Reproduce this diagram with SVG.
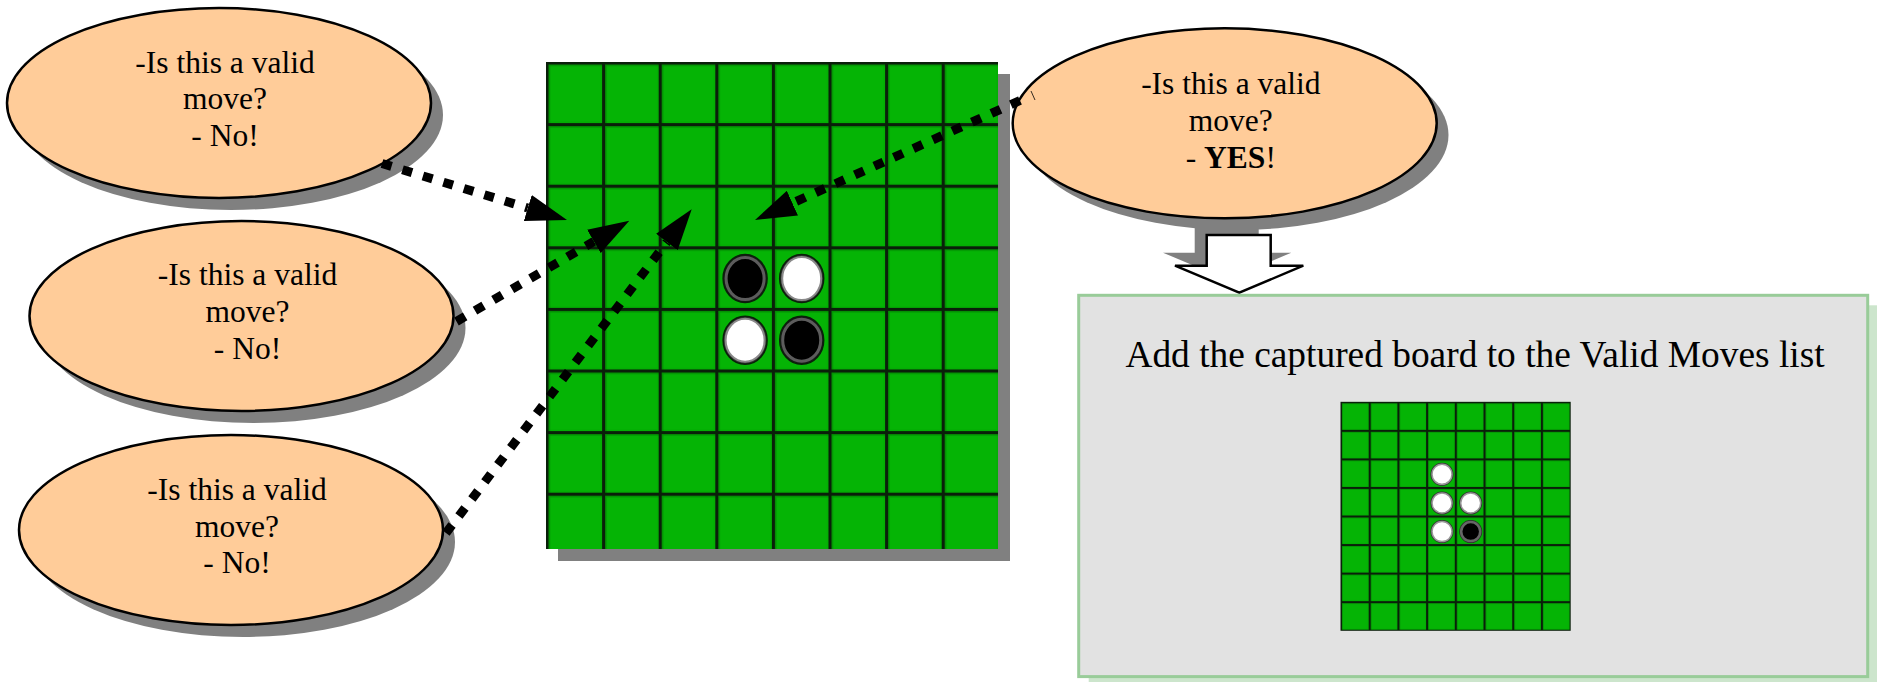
<svg xmlns="http://www.w3.org/2000/svg" xmlns:xlink="http://www.w3.org/1999/xlink" width="1877" height="682" viewBox="0 0 1877 682">
<style>
.bubble{fill:#FFCC99;stroke:#000;stroke-width:2.5}
.shadow{fill:#808080}
.qtext{font-family:"Liberation Serif","Times New Roman",serif;font-size:31.5px;fill:#000;text-anchor:middle}
.title{font-family:"Liberation Serif","Times New Roman",serif;font-size:37.4px;fill:#000;text-anchor:middle}
.conn{fill:none;stroke:#000;stroke-width:9;stroke-dasharray:10 11.4}
</style>
<defs>
<marker id="ah" markerUnits="userSpaceOnUse" viewBox="0 0 41 27" refX="0" refY="13.5" markerWidth="41" markerHeight="27" orient="auto">
<path d="M0,0 L41,13.5 L0,27 Z" fill="#000"/>
</marker>
<pattern id="grid" patternUnits="userSpaceOnUse" x="545.5" y="61.5" width="56.6" height="61.6">
<rect width="56.6" height="61.6" fill="#03AE03"/>
<rect x="3" y="3" width="52" height="57" fill="#06B806" opacity="0.6"/>
<path d="M1.5,0 V61.6 M0,1.5 H56.6" stroke="#004a00" stroke-width="6" opacity="0.35"/>
<path d="M1.5,0 V61.6 M0,1.5 H56.6" stroke="#0a1f0a" stroke-width="3"/>
</pattern>
<pattern id="sgrid" patternUnits="userSpaceOnUse" x="1340" y="401.3" width="28.7" height="28.55">
<rect width="28.7" height="28.55" fill="#03AE03"/>
<rect x="2" y="2" width="25.5" height="25.5" fill="#06B806" opacity="0.6"/>
<path d="M1,0 V28.55 M0,1 H28.7" stroke="#004a00" stroke-width="3.5" opacity="0.35"/>
<path d="M1,0 V28.55 M0,1 H28.7" stroke="#0a1f0a" stroke-width="2"/>
</pattern>
<g id="pb"><ellipse rx="22" ry="24" fill="#1a1a1a" stroke="#0a200a" stroke-width="1.5"/><ellipse rx="19" ry="21" fill="#000" stroke="#5c5c5c" stroke-width="3"/></g>
<g id="pw"><ellipse rx="22" ry="24" fill="#333" stroke="#0a200a" stroke-width="1.5"/><ellipse rx="19.5" ry="21.5" fill="#fff" stroke="#8a8a8a" stroke-width="2"/></g>
<g id="sb"><circle r="11.5" fill="#2a2a2a"/><circle r="9.5" fill="#000" stroke="#666" stroke-width="2.5"/></g>
<g id="sw"><circle r="11.5" fill="#333"/><circle r="10" fill="#fff" stroke="#999" stroke-width="1.5"/></g>
</defs>
<rect width="1877" height="682" fill="#fff"/>

<g id="board">
<rect class="shadow" x="558" y="74" width="452" height="487"/>
<rect x="546" y="62" width="452" height="487" fill="url(#grid)"/>
<use xlink:href="#pb" x="745.1" y="278.6"/>
<use xlink:href="#pw" x="801.7" y="278.6"/>
<use xlink:href="#pw" x="745.1" y="340.2"/>
<use xlink:href="#pb" x="801.7" y="340.2"/>
</g>

<g id="q1">
<ellipse class="shadow" cx="231" cy="115" rx="212" ry="95"/>
<ellipse class="bubble" cx="219" cy="103" rx="212" ry="95"/>
<text class="qtext" x="225" y="72.5">-Is this a valid</text>
<text class="qtext" x="225" y="109.2">move?</text>
<text class="qtext" x="225" y="146">- No!</text>
</g>

<g id="q2">
<ellipse class="shadow" cx="253.5" cy="328" rx="212" ry="95"/>
<ellipse class="bubble" cx="241.5" cy="316" rx="212" ry="95"/>
<text class="qtext" x="247.5" y="285.3">-Is this a valid</text>
<text class="qtext" x="247.5" y="322">move?</text>
<text class="qtext" x="247.5" y="358.7">- No!</text>
</g>

<g id="q3">
<ellipse class="shadow" cx="243" cy="542" rx="212" ry="95"/>
<ellipse class="bubble" cx="231" cy="530" rx="212" ry="95"/>
<text class="qtext" x="237" y="500">-Is this a valid</text>
<text class="qtext" x="237" y="536.7">move?</text>
<text class="qtext" x="237" y="573.4">- No!</text>
</g>

<g id="q4">
<ellipse class="shadow" cx="1236.5" cy="135" rx="212" ry="95"/>
<ellipse class="bubble" cx="1224.7" cy="123.3" rx="212" ry="95"/>
<text class="qtext" x="1230.8" y="93.5">-Is this a valid</text>
<text class="qtext" x="1230.8" y="130.5">move?</text>
<text class="qtext" x="1230.8" y="167.5">- <tspan font-weight="bold">YES</tspan>!</text>
<line x1="1031" y1="91" x2="1035" y2="100" stroke="#000" stroke-width="0.8"/>
</g>

<g id="connectors">
<path class="conn" d="M382,163.5 L527.8,208" marker-end="url(#ah)"/>
<path class="conn" d="M456.5,321.5 L593.9,241.4" marker-end="url(#ah)"/>
<path class="conn" d="M446,533 L666.9,242" marker-end="url(#ah)"/>
<path class="conn" d="M1020,100.5 L792.4,203.1" marker-end="url(#ah)"/>
</g>

<g id="down-arrow">
<path class="shadow" d="M1194.7,222 H1258.7 V252.7 H1291.3 L1227.3,279.7 L1163,252.7 H1194.7 Z"/>
<path d="M1206.7,235 H1270.7 V265.7 H1303.3 L1239.3,292.7 L1175,265.7 H1206.7 Z" fill="#fff" stroke="#000" stroke-width="2.5" stroke-linejoin="miter"/>
</g>

<g id="result">
<rect x="1088.7" y="305.3" width="789" height="381.3" fill="#CCE5CC"/>
<rect x="1078.7" y="295.3" width="789" height="381.3" fill="#E2E2E2" stroke="#99CC99" stroke-width="3"/>
<text class="title" x="1475" y="367">Add the captured board to the Valid Moves list</text>
<rect x="1340.5" y="401.8" width="230.2" height="229" fill="url(#sgrid)"/>
<use xlink:href="#sw" x="1442" y="474.3"/>
<use xlink:href="#sw" x="1442" y="503"/>
<use xlink:href="#sw" x="1470.7" y="503"/>
<use xlink:href="#sw" x="1442" y="531.6"/>
<use xlink:href="#sb" x="1470.7" y="531.6"/>
</g>
</svg>
